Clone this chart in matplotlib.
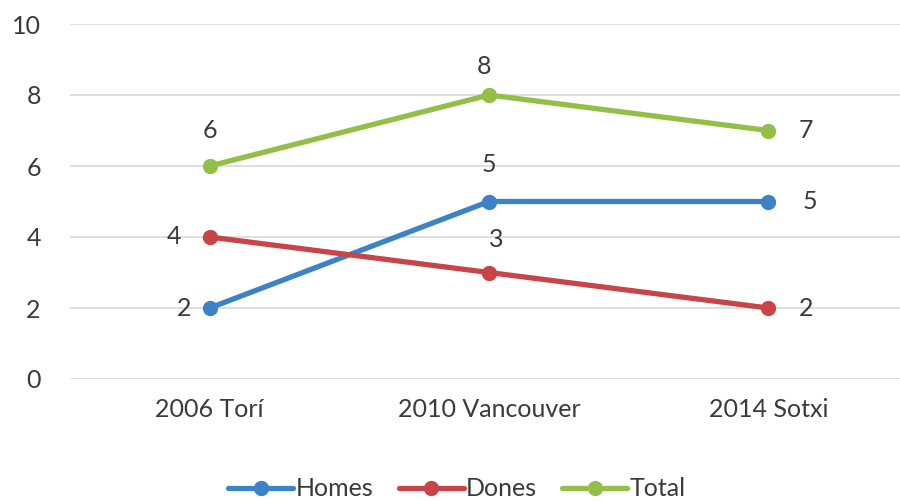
import matplotlib.pyplot as plt
import numpy as np

plt.rcParams['font.family'] = ['Lato', 'DejaVu Sans']

categories = ["2006 Torí", "2010 Vancouver", "2014 Sotxi"]
homes = [2, 5, 5]
dones = [4, 3, 2]
total = [6, 8, 7]

# label offsets (pixels) per point
homes_off = [(-26, 0), (0, 37), (42, 0)]
dones_off = [(-36, 0), (7, 33), (38, 0)]
total_off = [(0, 36), (-5, 28), (38, 0)]

colors = {"Homes": "#3D82C6", "Dones": "#C94446", "Total": "#93BE48"}
text_color = "#3A3A3A"

fig = plt.figure(figsize=(9, 5.01), dpi=100)
ax = fig.add_axes([70 / 900, (501 - 379) / 501, (908 - 70) / 900, (379 - 24) / 501])

x = np.arange(len(categories))
for name, vals, offs in [("Homes", homes, homes_off),
                         ("Dones", dones, dones_off),
                         ("Total", total, total_off)]:
    ax.plot(x, vals, color=colors[name], lw=3.8, marker="o", ms=10,
            label=name, solid_capstyle="round", zorder=3)
    for xi, v, off in zip(x, vals, offs):
        ax.annotate(f"{v}", (xi, v), xytext=off, textcoords="offset pixels",
                    ha="center", va="center", fontsize=18, color=text_color)

ax.set_xlim(-0.5, 2.5)
ax.set_ylim(0, 10)
ax.set_yticks(range(0, 11, 2))
ax.set_xticks(x)
ax.set_xticklabels(categories)
ax.grid(axis="y", color="#D9D9D9", lw=1.2)
ax.set_axisbelow(True)
for s in ax.spines.values():
    s.set_visible(False)
ax.tick_params(length=0, labelsize=18, colors=text_color)
ax.tick_params(axis="y", pad=21)
ax.tick_params(axis="x", pad=14)

fig.legend(loc="center", bbox_to_anchor=(0.508, 0.024), ncol=3, frameon=False,
           fontsize=18, handlelength=2.6, handletextpad=0.1, columnspacing=1.0,
           labelcolor=text_color)

fig.savefig("out.png", dpi=100)
